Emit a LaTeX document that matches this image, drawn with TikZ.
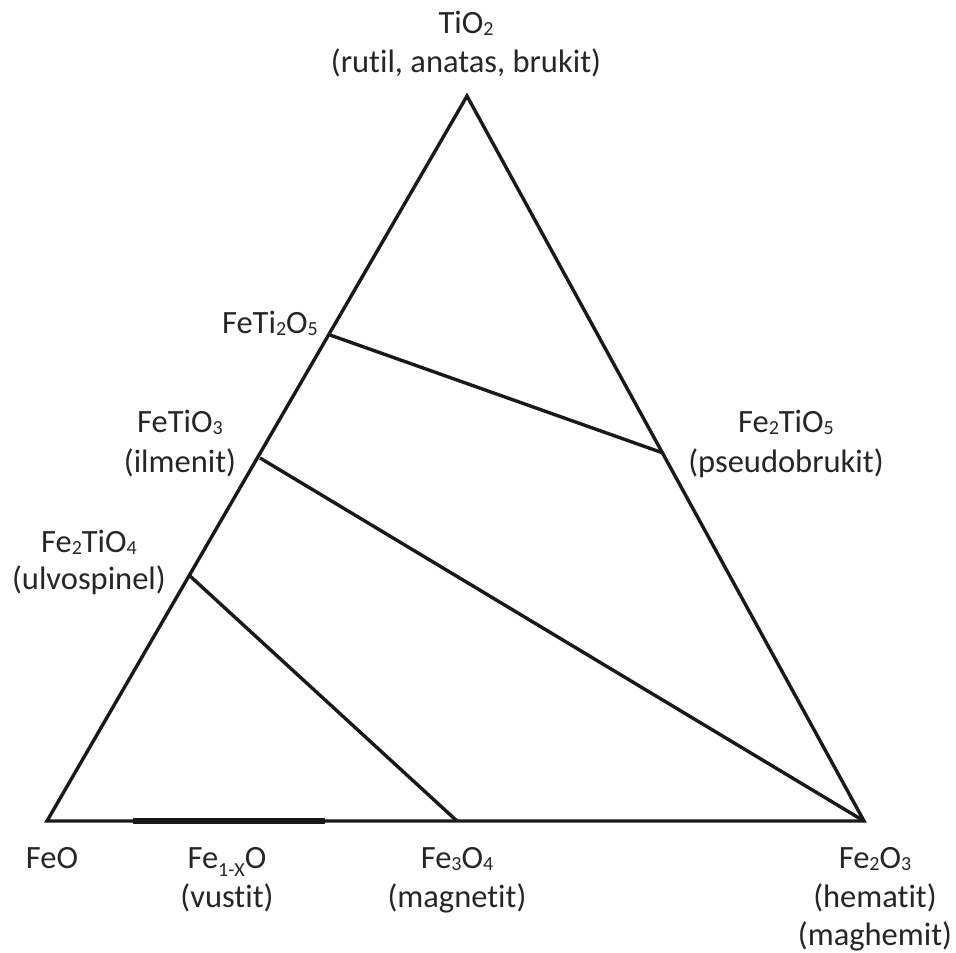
\documentclass[tikz,border=0pt]{standalone}
\usepackage{fontspec}
\setmainfont{Carlito}[RawFeature={-liga;-clig}]
\newcommand{\usb}[1]{\raisebox{-0.09em}{\fontsize{20pt}{20pt}\selectfont #1}}
\newcommand{\lsb}[1]{\raisebox{-0.26em}{\fontsize{20pt}{20pt}\selectfont #1}}
\begin{document}
\begin{tikzpicture}[x=1pt,y=-1pt,
  lbl/.style={inner sep=0pt,anchor=base,text=black!85,font=\fontsize{32.5pt}{38pt}\selectfont},
  edge/.style={line width=3.4pt,draw=black!90},
  phase/.style={line width=6pt,draw=black!90}]
\useasboundingbox (0,0) rectangle (956,953);
\coordinate (T) at (467,96);
\coordinate (L) at (47,821);
\coordinate (R) at (864,821);
\coordinate (p1) at (330,335);
\coordinate (p2) at (260,458);
\coordinate (p3) at (190,576);
\coordinate (q1) at (663,453);
\coordinate (m) at (457,821);
\coordinate (w1) at (133,821);
\coordinate (w2) at (325,821);
\draw[edge] (T) -- (L) -- (R) -- cycle;
\draw[edge] (p1) -- (q1);
\draw[edge] (p2) -- (R);
\draw[edge] (p3) -- (m);
\draw[phase] (w1) -- (w2);
% labels
\node[lbl] (t1) at (466,33) {TiO\usb{2}};
\node[lbl] (t2) at (466,72) {(rutil, anatas, brukit)};
\node[lbl,anchor=base east] (f1) at (318,333) {FeTi\usb{2}O\usb{5}};
\node[lbl] (f2) at (180,432) {FeTiO\usb{3}};
\node[lbl] (f3) at (180,472) {(ilmenit)};
\node[lbl] (u1) at (89,552) {Fe\usb{2}TiO\usb{4}};
\node[lbl] (u2) at (89,589) {(ulvospinel)};
\node[lbl] (s1) at (786,432) {Fe\usb{2}TiO\usb{5}};
\node[lbl] (s2) at (786,472) {(pseudobrukit)};
\node[lbl] (b1) at (52,868) {FeO};
\node[lbl] (v1) at (227,868) {Fe\lsb{1-X}O};
\node[lbl] (v2) at (227,907) {(vustit)};
\node[lbl] (g1) at (457,868) {Fe\usb{3}O\usb{4}};
\node[lbl] (g2) at (457,907) {(magnetit)};
\node[lbl] (h1) at (875,868) {Fe\usb{2}O\usb{3}};
\node[lbl] (h2) at (875,907) {(hematit)};
\node[lbl] (h3) at (875,945) {(maghemit)};
\end{tikzpicture}
\end{document}
